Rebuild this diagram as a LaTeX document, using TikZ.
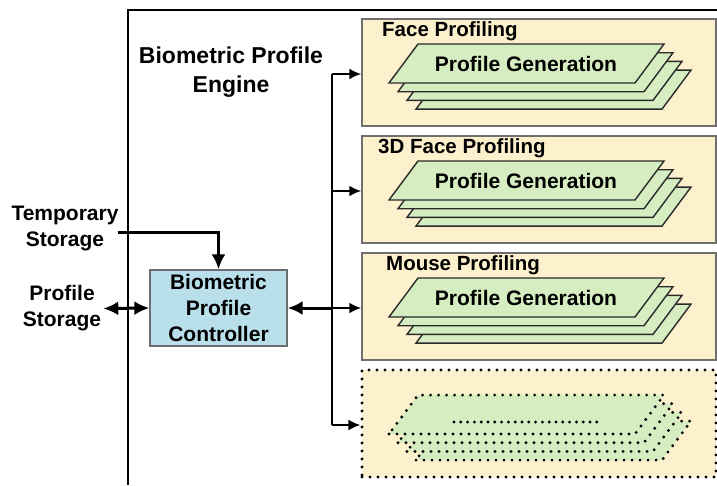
\documentclass[tikz,border=0pt]{standalone}
\usepackage{fontspec}
\setmainfont{Liberation Sans}
\usetikzlibrary{arrows.meta,calc}

\definecolor{panelfill}{HTML}{FDF0CD}
\definecolor{panelline}{HTML}{6E6E6E}
\definecolor{genfill}{HTML}{D5EDC0}
\definecolor{genline}{HTML}{2A2A2A}
\definecolor{ctrlfill}{HTML}{B8DFEA}

\begin{document}
\begin{tikzpicture}[x=1pt,y=-1pt,
  txt/.style={font=\fontsize{21}{26}\selectfont\bfseries, align=center, inner sep=0pt},
  ttl/.style={font=\fontsize{20.5}{24}\selectfont\bfseries, anchor=west, inner sep=0pt},
  panel/.style={draw=panelline, line width=1.5pt, fill=panelfill,
    minimum width=354pt, minimum height=107pt, inner sep=0pt},
  dotpanel/.style={panel, draw=black, line width=3.2pt,
    dash pattern=on 0pt off 8pt, line cap=round},
  genlayer/.style={draw=genline, line width=1.4pt, fill=genfill, line join=miter},
  dotlayer/.style={draw=black, line width=3.2pt, fill=genfill,
    dash pattern=on 0pt off 8pt, line cap=round},
  smalltip/.tip={Latex[length=12pt,width=11pt]},
  bigtip/.tip={Latex[length=15pt,width=14pt]},
  wire/.style={line width=2.2pt, -smalltip},
  boldwire/.style={line width=3pt}
]
\useasboundingbox (0,0) rectangle (717,485);

% engine frame (continues past the right and bottom edges)
\draw[line width=2pt] (128,485) -- (128,10) -- (717,10);
\node[txt, font=\fontsize{23}{29}\selectfont\bfseries] (engine) at (231,72)
  {Biometric Profile\\Engine};

% profiling panels
\node[panel] (p1) at (539,72.5) {};
\node[panel] (p2) at (539,189.5) {};
\node[panel] (p3) at (539,306.5) {};
\node[dotpanel] (p4) at (539,423.5) {};

\node[ttl] (t1) at (382,31) {Face Profiling};
\node[ttl] (t2) at (378,148) {3D Face Profiling};
\node[ttl] (t3) at (386,265) {Mouse Profiling};

% stacked profile generation sheets
\foreach \T/\n in {19/1,136/2,253/3} {
  \foreach \k in {3,2,1,0} {
    \draw[genlayer, shift={(9*\k,8.7*\k)}]
      (389,\T+64) -- (635,\T+64) -- (664,\T+25) -- (418,\T+25) -- cycle;
  }
  \node[txt] (g\n) at (526,\T+45) {Profile Generation};
}
\foreach \k in {3,2,1,0} {
  \draw[dotlayer, shift={(9*\k,8.7*\k)}]
    (389,434) -- (635,434) -- (664,395) -- (418,395) -- cycle;
}
\draw[line width=3.2pt, dash pattern=on 0pt off 6.8pt, line cap=round]
  (454,422) -- (598,422);

% controller and storages
\node[draw=panelline, line width=1.3pt, fill=ctrlfill, txt,
  minimum width=137pt, minimum height=76pt] (ctrl) at (218.5,308)
  {Biometric\\Profile\\Controller};
\node[txt] (tmp) at (65,228) {Temporary\\Storage};
\node[txt] (ps) at (62,308.5) {Profile\\Storage};

\coordinate (tsrc) at (118,232);
\draw[boldwire, -bigtip] (tsrc) -| (ctrl.north);
\draw[boldwire, bigtip-bigtip] ([xshift=2pt]ps.east) -- (ctrl.west);

% distribution bus
\coordinate (bt) at (332,74);
\coordinate (bb) at (332,425);
\draw[line width=2.2pt] (bt) -- (bb);
\draw[wire] (bt) -- (bt -| p1.west);
\draw[wire] (332,191) -- (p2.west |- 332,191);
\draw[boldwire, bigtip-] (ctrl.east) -- (ctrl.east -| bt);
\draw[wire] (ctrl.east -| bt) -- (ctrl.east -| p3.west);
\draw[wire] (bb) -- (bb -| p4.west);
\end{tikzpicture}
\end{document}
